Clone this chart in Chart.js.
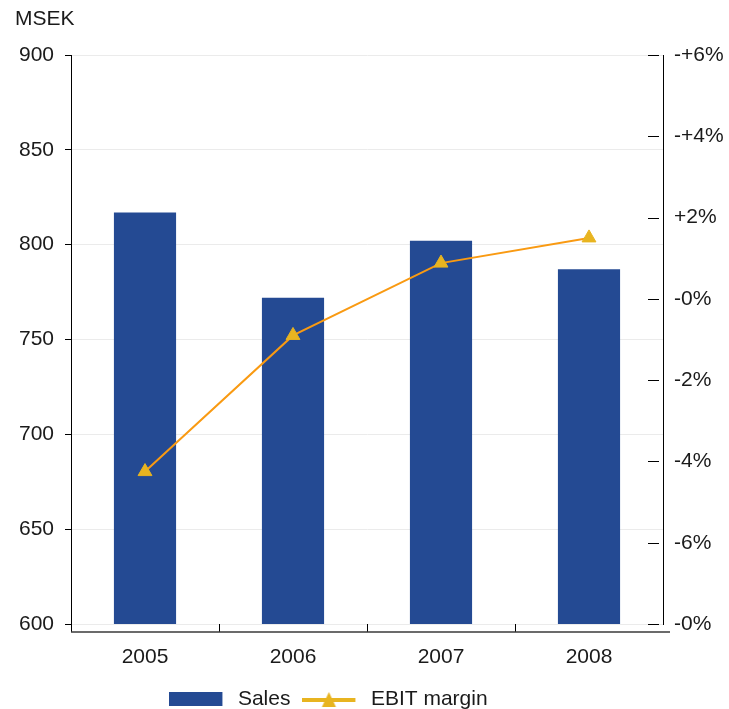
<!DOCTYPE html>
<html>
<head>
<meta charset="utf-8">
<title>Sales and EBIT margin</title>
<script src="https://cdn.jsdelivr.net/npm/chart.js@4.4.1/dist/chart.umd.min.js"></script>
<style>
  html, body { margin: 0; padding: 0; background: #ffffff; }
  #chart { display: block; }
</style>
</head>
<body>
<canvas id="chart" width="729" height="709"></canvas>
<script>
// Annual figures
const years = ['2005', '2006', '2007', '2008'];
const salesMsek = [817, 772, 802, 787];
const ebitMarginPct = [-4.25, -0.9, 0.88, 1.5];

// Axis ticks
const salesTickValues = [600, 650, 700, 750, 800, 850, 900];
const marginTickValues = [-8, -6, -4, -2, 0, 2, 4, 6];
const marginTickLabels = ['-0%', '-6%', '-4%', '-2%', '-0%', '+2%', '-+4%', '-+6%'];

const FONT = "'Liberation Sans', Arial, Helvetica, sans-serif";
const TEXT = '#1a1a1a';
const BAR_BLUE = '#244a93';
const LINE_ORANGE = '#f99a12';
const MARKER_GOLD = '#e8b420';

// Legend swatches
function makeSalesSwatch() {
  const c = document.createElement('canvas');
  c.width = 58; c.height = 14;
  const g = c.getContext('2d');
  g.fillStyle = BAR_BLUE;
  g.fillRect(0, 0, 53, 14);
  return c;
}
function makeMarginSwatch() {
  const c = document.createElement('canvas');
  c.width = 58; c.height = 18;
  const g = c.getContext('2d');
  g.fillStyle = MARKER_GOLD;
  g.fillRect(0, 8, 53, 4);
  g.beginPath();
  g.moveTo(26.5, 2);
  g.lineTo(33.5, 17);
  g.lineTo(19.5, 17);
  g.closePath();
  g.fill();
  return c;
}

// Inner tick marks on the right axis, the baseline and category separators
const axisDetails = {
  id: 'axisDetails',
  afterDraw(chart) {
    const { ctx, chartArea: a, scales } = chart;
    const x = scales.x, y1 = scales.y1;
    const base = a.bottom + 8;
    ctx.save();
    ctx.strokeStyle = '#000';
    ctx.lineWidth = 1;
    y1.ticks.forEach(t => {
      const py = Math.round(y1.getPixelForValue(t.value)) + 0.5;
      ctx.beginPath();
      ctx.moveTo(a.right - 15, py);
      ctx.lineTo(a.right - 4, py);
      ctx.stroke();
    });
    ctx.beginPath();
    ctx.moveTo(Math.round(a.left) + 0.5, a.bottom);
    ctx.lineTo(Math.round(a.left) + 0.5, base);
    ctx.stroke();
    for (let i = 0; i < years.length - 1; i++) {
      const px = Math.round((x.getPixelForValue(i) + x.getPixelForValue(i + 1)) / 2) + 0.5;
      ctx.beginPath();
      ctx.moveTo(px, a.bottom);
      ctx.lineTo(px, base);
      ctx.stroke();
    }
    ctx.strokeStyle = '#3a3a3a';
    ctx.lineWidth = 1.5;
    ctx.beginPath();
    ctx.moveTo(a.left, base);
    ctx.lineTo(a.right + 7, base);
    ctx.stroke();
    ctx.restore();
  }
};

// Legend sits a little left of the canvas centre
const legendOffset = {
  id: 'legendOffset',
  afterLayout(chart) {
    const lg = chart.legend;
    if (lg) { lg.left -= 41; lg.right -= 41; }
  }
};

new Chart(document.getElementById('chart'), {
  data: {
    labels: years,
    datasets: [
      {
        type: 'bar',
        label: 'Sales',
        data: salesMsek,
        yAxisID: 'y',
        backgroundColor: BAR_BLUE,
        borderWidth: 0,
        barPercentage: 0.42,
        categoryPercentage: 1,
        order: 2
      },
      {
        type: 'line',
        label: 'EBIT margin',
        data: ebitMarginPct,
        yAxisID: 'y1',
        borderColor: LINE_ORANGE,
        borderWidth: 2,
        tension: 0,
        pointStyle: 'triangle',
        pointRadius: 8,
        pointHoverRadius: 8,
        pointBackgroundColor: MARKER_GOLD,
        pointBorderColor: MARKER_GOLD,
        pointBorderWidth: 1,
        order: 1
      }
    ]
  },
  options: {
    responsive: false,
    animation: false,
    devicePixelRatio: 1,
    // the legend's own lower padding may run past the canvas edge
    layout: { padding: { left: 15, right: 5, top: 0, bottom: -10.5 } },
    scales: {
      x: {
        type: 'category',
        grid: { display: false },
        border: { display: false },
        ticks: { color: TEXT, font: { family: FONT, size: 21 }, padding: 13, maxRotation: 0 },
        afterFit(scale) { scale.height = 52.5; }
      },
      y: {
        type: 'linear',
        position: 'left',
        min: 600,
        max: 900,
        afterBuildTicks(scale) { scale.ticks = salesTickValues.map(v => ({ value: v })); },
        grid: { color: '#ebebeb', lineWidth: 1, tickColor: '#000', tickLength: 6 },
        border: { display: true, color: '#000', width: 1 },
        ticks: { color: TEXT, font: { family: FONT, size: 21 }, padding: 11 },
        afterFit(scale) { scale.width = 56; }
      },
      y1: {
        type: 'linear',
        position: 'right',
        min: -8,
        max: 6,
        afterBuildTicks(scale) { scale.ticks = marginTickValues.map(v => ({ value: v })); },
        grid: { drawOnChartArea: false, drawTicks: false },
        border: { display: true, color: '#000', width: 1 },
        ticks: {
          color: TEXT,
          font: { family: FONT, size: 21 },
          padding: 11,
          callback(value) { return marginTickLabels[marginTickValues.indexOf(value)]; }
        },
        afterFit(scale) { scale.width = 61; }
      }
    },
    plugins: {
      title: {
        display: true,
        text: 'MSEK',
        align: 'start',
        color: TEXT,
        font: { family: FONT, size: 21, weight: 'normal' },
        padding: { top: 7, bottom: 22.8 }
      },
      legend: {
        position: 'bottom',
        labels: {
          usePointStyle: true,
          pointStyleWidth: 58,
          boxHeight: 14,
          padding: 12,
          color: TEXT,
          font: { family: FONT, size: 21 },
          generateLabels() {
            return [
              { text: 'Sales', pointStyle: makeSalesSwatch(), fillStyle: BAR_BLUE, strokeStyle: BAR_BLUE, lineWidth: 0, fontColor: TEXT, hidden: false, datasetIndex: 0 },
              { text: 'EBIT margin', pointStyle: makeMarginSwatch(), fillStyle: MARKER_GOLD, strokeStyle: MARKER_GOLD, lineWidth: 0, fontColor: TEXT, hidden: false, datasetIndex: 1 }
            ];
          }
        }
      },
      tooltip: { enabled: false }
    }
  },
  plugins: [axisDetails, legendOffset]
});
</script>
</body>
</html>
